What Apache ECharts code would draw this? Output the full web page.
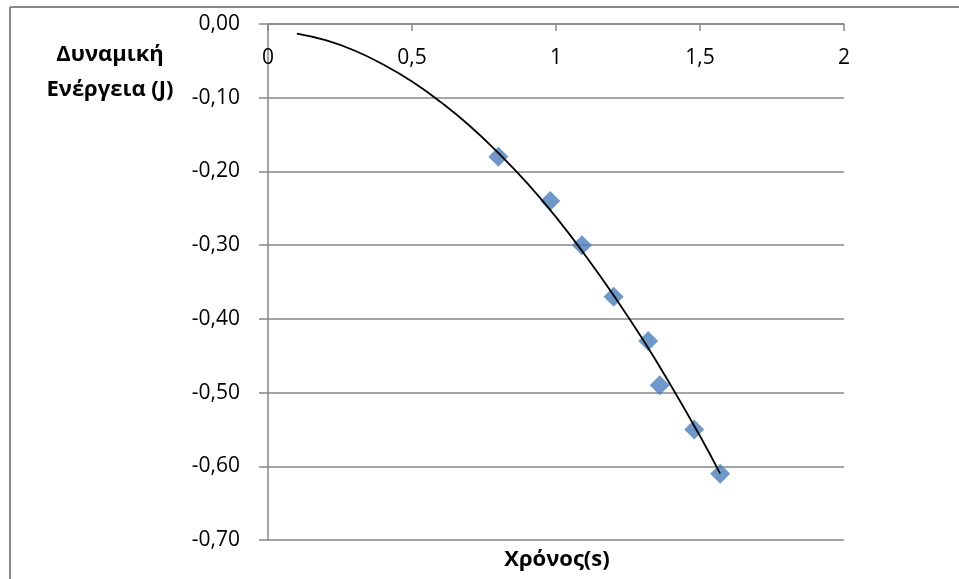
<!DOCTYPE html>
<html>
<head>
<meta charset="utf-8">
<script src="https://cdn.jsdelivr.net/npm/echarts@6/dist/echarts.min.js"></script>
<style>
    html, body { margin: 0; padding: 0; background: #fff; }
    #main { width: 959px; height: 579px; }
</style>
</head>
<body>
<div id="main"></div>
<script>
// measured points (time s, potential energy J)
var timeVals = [0.80, 0.98, 1.09, 1.20, 1.32, 1.36, 1.48, 1.57];
var energyVals = [-0.18, -0.24, -0.30, -0.37, -0.43, -0.49, -0.55, -0.61];

// trend line
var trendTime = [0.1, 0.2, 0.3, 0.4, 0.5, 0.6, 0.7, 0.8, 0.9, 1.0, 1.1, 1.2, 1.3, 1.4, 1.5, 1.57];
var trendEnergy = [-0.013, -0.022, -0.036, -0.055, -0.078, -0.106, -0.138, -0.175, -0.216, -0.262, -0.313, -0.368, -0.427, -0.491, -0.559, -0.610];

var xTitle = 'Χρόνος(s)';
var yTitle = 'Δυναμική\nΕνέργεια (J)';

(function () {
    var chart = echarts.init(document.getElementById('main'));

    var points = timeVals.map(function (t, i) { return [t, energyVals[i]]; });
    var trend = trendTime.map(function (t, i) { return [t, trendEnergy[i]]; });

    var gray = '#878787';
    var font = '"Open Sans", "Liberation Sans", sans-serif';

    var option = {
        animation: false,
        grid: {
            left: 268,
            right: 115,
            top: 24,
            bottom: 39
        },
        xAxis: {
            type: 'value',
            position: 'top',
            min: 0,
            max: 2,
            interval: 0.5,
            axisLine: { onZero: false, lineStyle: { color: gray, width: 1.5 } },
            axisTick: { inside: true, length: 7, lineStyle: { color: gray, width: 1.5 } },
            axisLabel: {
                inside: true,
                margin: 24,
                color: '#000',
                fontSize: 21,
                fontFamily: font,
                formatter: function (v) { return String(v).replace('.', ','); }
            },
            splitLine: { show: false }
        },
        yAxis: {
            type: 'value',
            min: -0.7,
            max: 0,
            interval: 0.1,
            axisLine: { show: true, lineStyle: { color: gray, width: 1.5 } },
            axisTick: { show: true, length: 9, lineStyle: { color: gray, width: 1.5 } },
            axisLabel: {
                margin: 28,
                color: '#000',
                fontSize: 21,
                fontFamily: font,
                formatter: function (v) { return (Math.abs(v) < 1e-9 ? 0 : v).toFixed(2).replace('.', ','); }
            },
            splitLine: { show: true, lineStyle: { color: gray, width: 1.5 } }
        },
        graphic: [
            { type: 'line', shape: { x1: 10, y1: 7, x2: 959, y2: 7 }, style: { stroke: gray, lineWidth: 2 } },
            { type: 'line', shape: { x1: 10, y1: 7, x2: 10, y2: 579 }, style: { stroke: gray, lineWidth: 2 } },
            {
                type: 'text', x: 557, y: 560,
                style: { text: xTitle, fill: '#000', font: 'bold 22px ' + font, align: 'center', verticalAlign: 'middle' }
            },
            {
                type: 'text', x: 110, y: 37,
                style: { text: yTitle, fill: '#000', font: 'bold 22px ' + font, align: 'center', verticalAlign: 'top', lineHeight: 35 }
            }
        ],
        series: [
            {
                name: 'points',
                type: 'scatter',
                symbol: 'diamond',
                symbolSize: 20,
                itemStyle: { color: '#4A7EBB' },
                data: points,
                z: 2
            },
            {
                name: 'trend',
                type: 'line',
                smooth: true,
                showSymbol: false,
                lineStyle: { color: '#000', width: 1.8 },
                data: trend,
                z: 3
            }
        ]
    };

    chart.setOption(option);
    window.addEventListener('resize', function () {
        chart.resize();
    });
})();
</script>
</body>
</html>
